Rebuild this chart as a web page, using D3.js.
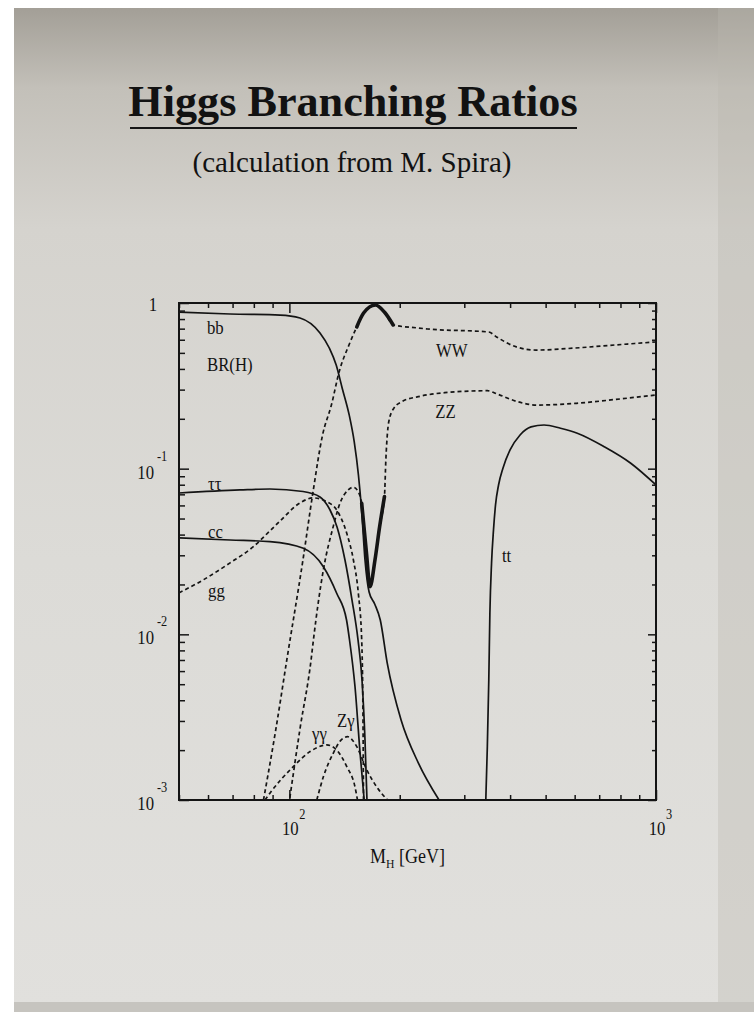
<!DOCTYPE html>
<html>
<head>
<meta charset="utf-8">
<script src="https://cdn.jsdelivr.net/npm/d3@7"></script>
<style>
  html, body { margin: 0; padding: 0; background: #fff; }
  svg { display: block; }
  text { font-family: "Liberation Serif", "Times New Roman", serif; fill: #121212; }
</style>
</head>
<body>
<script>
const W = 754, H = 1012;

// BR(H), [M_H (GeV), branching ratio]
const bb = [[50, 0.882], [68.9, 0.858], [94.3, 0.846], [106.9, 0.812], [121.2, 0.659], [128.5, 0.535],
  [134.2, 0.422], [139.3, 0.307], [145.6, 0.211], [150.3, 0.145], [154.3, 0.0916], [157.4, 0.0563],
  [160.8, 0.0281], [165, 0.018], [171, 0.0152], [177, 0.0122], [184.9, 0.0067], [201.7, 0.00304],
  [224.9, 0.00167], [256, 0.001]];
const tautau = [[50, 0.0713], [73.3, 0.0744], [88.5, 0.0754], [109, 0.0728], [121.2, 0.0675], [129.1, 0.0563],
  [134.9, 0.0445], [141.8, 0.0281], [148.2, 0.0161], [153.9, 0.00925], [157.8, 0.0053], [160.8, 0.0023],
  [162.8, 0.001]];
const cc = [[50, 0.0382], [68.9, 0.0371], [88.5, 0.0363], [109.2, 0.0331], [123.8, 0.0256], [134.6, 0.0177],
  [143.2, 0.0122], [145.9, 0.00925], [151, 0.00484], [155.9, 0.00192], [160, 0.001]];
const gg = [[50, 0.0178], [58.2, 0.0213], [68.9, 0.027], [79.6, 0.0337], [88.5, 0.0421], [94.3, 0.0483],
  [106.9, 0.0621], [116, 0.0666], [126.4, 0.0632], [134.6, 0.0563], [143.4, 0.0407], [149.5, 0.0281],
  [154.2, 0.0177], [157.5, 0.00925], [158.8, 0.00304], [159.3, 0.001]];
const ww = [[85, 0.001], [91.8, 0.00265], [98.4, 0.007], [108.9, 0.0281], [115.9, 0.0714], [123.2, 0.16],
  [130.2, 0.242], [136.7, 0.384], [145.4, 0.558], [152.7, 0.717], [159.4, 0.87], [171.7, 0.972],
  [181.6, 0.882], [191.9, 0.737], [223.9, 0.707], [238.2, 0.697], [350, 0.668], [367.3, 0.624],
  [415.9, 0.543], [470.7, 0.52], [603, 0.535], [772.6, 0.558], [1000, 0.582]];
const zz = [[100.3, 0.00103], [106.9, 0.00269], [114.6, 0.007], [116.3, 0.00925], [123.8, 0.0245],
  [131.7, 0.0447], [137.4, 0.0618], [144.7, 0.0744], [149.4, 0.0772], [154.1, 0.0726], [157.5, 0.0618],
  [162.3, 0.0309], [165.9, 0.0194], [171.2, 0.0281], [176.3, 0.0447], [181.7, 0.0678], [183.3, 0.113],
  [186.7, 0.192], [192.7, 0.2315], [202.7, 0.254], [224.8, 0.272], [265.3, 0.2875], [346.9, 0.2955],
  [369.1, 0.282], [418.4, 0.254], [473.7, 0.242], [607, 0.248], [778.6, 0.262], [1000, 0.2785]];
const tt = [[343.4, 0.001], [346.7, 0.0021], [349.9, 0.0053], [352.3, 0.0134], [356, 0.0269], [360.4, 0.0427],
  [365, 0.0604], [372, 0.0797], [382.6, 0.101], [399.9, 0.1297], [425.8, 0.1597], [456.2, 0.1786],
  [495, 0.1835], [549, 0.1753], [610, 0.1636], [721.6, 0.1358], [853.4, 0.1078], [1000, 0.0797]];
const gamgam = [[85.8, 0.001], [88.5, 0.0011], [102.5, 0.00159], [113.9, 0.00196], [126.4, 0.00215],
  [134.6, 0.002], [143.4, 0.00159], [151, 0.0012], [153.4, 0.001]];
const zgam = [[118.8, 0.001], [123.8, 0.00138], [131.8, 0.00192], [138.3, 0.0023], [144.1, 0.00241],
  [152.7, 0.0021], [162.6, 0.00152], [173.1, 0.0012], [185.2, 0.001]];

// curve labels, anchored in data units
const labelText = ["bb", "BR(H)", "ττ", "cc", "gg", "WW", "ZZ", "tt", "γγ", "Zγ"];
const labelMass = [59.6, 59.6, 60, 60, 60, 251, 250, 380, 115.3, 134.9];
const labelBR = [0.65, 0.389, 0.0744, 0.0382, 0.0168, 0.472, 0.2023, 0.0273, 0.00231, 0.00276];

// axis tick labels
const yMajor = [1, 0.1, 0.01, 0.001];
const yLabels = [["1", ""], ["10", "-1"], ["10", "-2"], ["10", "-3"]];
const xMajor = [100, 1000];
const xLabels = [["10", "2"], ["10", "3"]];

const svg = d3.select("body").append("svg")
  .attr("width", W)
  .attr("height", H);

// paper background (photo of a printed page)
const defs = svg.append("defs");
const grad = defs.append("linearGradient").attr("id", "paper")
  .attr("x1", 0).attr("y1", 0).attr("x2", 0).attr("y2", 1);
grad.append("stop").attr("offset", "0%").attr("stop-color", "#a39f97");
grad.append("stop").attr("offset", "8%").attr("stop-color", "#c3c0b9");
grad.append("stop").attr("offset", "22%").attr("stop-color", "#d5d3ce");
grad.append("stop").attr("offset", "55%").attr("stop-color", "#dcdbd7");
grad.append("stop").attr("offset", "100%").attr("stop-color", "#e1e0dd");

svg.append("rect").attr("width", W).attr("height", H).attr("fill", "#ffffff");
svg.append("rect").attr("x", 14).attr("y", 8).attr("width", W - 14).attr("height", H - 8)
  .attr("fill", "url(#paper)");
svg.append("rect").attr("x", 718).attr("y", 8).attr("width", W - 718).attr("height", H - 8)
  .attr("fill", "#b9b6af").attr("opacity", 0.35);
svg.append("rect").attr("x", 14).attr("y", 1002).attr("width", W - 14).attr("height", 10)
  .attr("fill", "#c6c4bf");

// title
svg.append("text")
  .attr("x", 353).attr("y", 116)
  .attr("text-anchor", "middle")
  .attr("font-size", 44.2).attr("font-weight", "bold")
  .text("Higgs Branching Ratios");
svg.append("line")
  .attr("x1", 130).attr("x2", 577).attr("y1", 128).attr("y2", 128)
  .attr("stroke", "#161616").attr("stroke-width", 2);
svg.append("text")
  .attr("x", 352).attr("y", 172)
  .attr("text-anchor", "middle")
  .attr("font-size", 29)
  .text("(calculation from M. Spira)");

// scales
const x = d3.scaleLog().domain([50, 1000]).range([179, 656]);
const y = d3.scaleLog().domain([0.001, 1]).range([800, 303]);
const [x0, x1] = x.range();
const [y0, y1] = y.range();

const isMajor = v => Math.abs(Math.log10(v) - Math.round(Math.log10(v))) < 1e-6;
const xMinor = x.ticks().filter(v => !isMajor(v));
const yMinor = y.ticks().filter(v => !isMajor(v));

function tickAxis(axis, pos, values, size) {
  const g = svg.append("g")
    .attr("transform", pos)
    .call(axis.tickValues(values).tickSize(size).tickFormat(""));
  g.select(".domain").remove();
  g.selectAll("line").attr("stroke", "#161616").attr("stroke-width", 1.5);
}
// all ticks point into the frame
tickAxis(d3.axisBottom(x), `translate(0,${y0})`, xMinor, -5);
tickAxis(d3.axisBottom(x), `translate(0,${y0})`, xMajor, -10);
tickAxis(d3.axisTop(x), `translate(0,${y1})`, xMinor, -5);
tickAxis(d3.axisTop(x), `translate(0,${y1})`, xMajor, -10);
tickAxis(d3.axisLeft(y), `translate(${x0},0)`, yMinor, -6);
tickAxis(d3.axisLeft(y), `translate(${x0},0)`, yMajor, -10);
tickAxis(d3.axisRight(y), `translate(${x1},0)`, yMinor, -4);
tickAxis(d3.axisRight(y), `translate(${x1},0)`, yMajor, -8);

// curves
defs.append("clipPath").attr("id", "plot")
  .append("rect").attr("x", x0).attr("y", y1).attr("width", x1 - x0).attr("height", y0 - y1);

const line = d3.line()
  .x(d => x(d[0]))
  .y(d => y(d[1]))
  .curve(d3.curveMonotoneX);

const series = [
  { data: bb, dashed: false },
  { data: tautau, dashed: false },
  { data: cc, dashed: false },
  { data: tt, dashed: false },
  { data: gg, dashed: true },
  { data: ww, dashed: true, heavy: [152, 192] },
  { data: zz, dashed: true, heavy: [157, 182] },
  { data: gamgam, dashed: true },
  { data: zgam, dashed: true }
];

const curves = svg.append("g").attr("clip-path", "url(#plot)");
series.forEach(s => {
  curves.append("path")
    .attr("d", line(s.data))
    .attr("fill", "none")
    .attr("stroke", "#141414")
    .attr("stroke-width", 1.7)
    .attr("stroke-dasharray", s.dashed ? "4,3" : null);
  if (s.heavy) {
    const part = s.data.filter(d => d[0] >= s.heavy[0] && d[0] <= s.heavy[1]);
    curves.append("path")
      .attr("d", line(part))
      .attr("fill", "none")
      .attr("stroke", "#141414")
      .attr("stroke-width", 3.6)
      .attr("stroke-linecap", "round");
  }
});

// frame
svg.append("rect")
  .attr("x", x0).attr("y", y1)
  .attr("width", x1 - x0).attr("height", y0 - y1)
  .attr("fill", "none")
  .attr("stroke", "#141414")
  .attr("stroke-width", 2);

// curve labels
labelText.forEach((t, i) => {
  svg.append("text")
    .attr("transform", `translate(${x(labelMass[i])},${y(labelBR[i])}) scale(0.86,1)`)
    .attr("font-size", 19.5)
    .text(t);
});

// y tick labels
yMajor.forEach((v, i) => {
  const [base, exp] = yLabels[i];
  if (exp === "") {
    svg.append("text")
      .attr("transform", `translate(157,${y(v) + 8}) scale(0.88,1)`)
      .attr("text-anchor", "end").attr("font-size", 19)
      .text(base);
  } else {
    svg.append("text")
      .attr("transform", `translate(154,${y(v) + 10}) scale(0.88,1)`)
      .attr("text-anchor", "end").attr("font-size", 19)
      .text(base);
    svg.append("text")
      .attr("transform", `translate(157,${y(v) - 8}) scale(0.88,1)`)
      .attr("font-size", 14)
      .text(exp);
  }
});

// x tick labels
xMajor.forEach((v, i) => {
  const [base, exp] = xLabels[i];
  svg.append("text")
    .attr("transform", `translate(${x(v) + 1},${y0 + 35}) scale(0.88,1)`)
    .attr("text-anchor", "middle").attr("font-size", 19)
    .text(base);
  svg.append("text")
    .attr("transform", `translate(${x(v) + 10},${y0 + 19}) scale(0.88,1)`)
    .attr("font-size", 14)
    .text(exp);
});

// x axis title
const xt = svg.append("text")
  .attr("transform", `translate(370,863) scale(0.9,1)`)
  .attr("font-size", 20);
xt.append("tspan").text("M");
xt.append("tspan").attr("font-size", 13).attr("dy", 5).text("H");
xt.append("tspan").attr("dy", -5).text(" [GeV]");
</script>
</body>
</html>
